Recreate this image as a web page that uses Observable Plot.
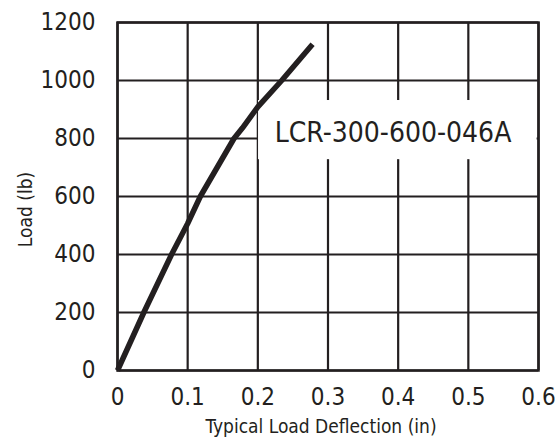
<!DOCTYPE html>
<html><head><meta charset="utf-8">
<script src="https://cdn.jsdelivr.net/npm/d3@7"></script>
<script src="https://cdn.jsdelivr.net/npm/@observablehq/plot@0.6"></script>
<style>body{margin:0;background:#fff} svg{display:block}</style>
</head><body><div id="chart"></div>
<script>
// Data
const deflection = [0, 0.0375, 0.077, 0.1, 0.118, 0.166, 0.178, 0.2, 0.234, 0.278];
const load       = [0, 200,    400,   507, 600,   800,   836,   909, 1000,  1125];
const xTicks = [0, 0.1, 0.2, 0.3, 0.4, 0.5, 0.6];
const yTicks = [0, 200, 400, 600, 800, 1000, 1200];
const seriesName = "LCR-300-600-046A";
const xTitle = "Typical Load Deflection (in)";
const yTitle = "Load (lb)";

// Annotation placement (data units)
const labelBox = {x1: 0.201, x2: 0.598, y1: 727, y2: 931};
const labelAt = {x: 0.224, y: 818};

const ink = "#231f20";
const font = "'Liberation Sans Narrow', 'Arial Narrow', 'DejaVu Sans Condensed', sans-serif";
const idx = deflection.map((_, i) => i);

const chart = Plot.plot({
  width: 560, height: 438,
  marginLeft: 117, marginRight: 22, marginTop: 22, marginBottom: 68,
  style: {fontFamily: font, color: ink, background: "#fff"},
  x: {domain: [0, 0.6]},
  y: {domain: [0, 1200]},
  marks: [
    Plot.ruleX(xTicks, {stroke: ink, strokeWidth: 2.2}),
    Plot.ruleY(yTicks, {stroke: ink, strokeWidth: 2.2}),
    Plot.rect([labelBox], {x1: "x1", x2: "x2", y1: "y1", y2: "y2", fill: "#fff"}),
    Plot.frame({stroke: ink, strokeWidth: 2.5}),
    Plot.axisX(xTicks, {tickSize: 0, tickPadding: 17, fontSize: 24, label: null, tickFormat: d => String(d)}),
    Plot.axisY(yTicks, {tickSize: 0, tickPadding: 22, fontSize: 24, label: null, tickFormat: d => String(d)}),
    Plot.line(idx, {x: i => deflection[i], y: i => load[i], stroke: ink, strokeWidth: 5.5, strokeLinejoin: "round", strokeLinecap: "butt"}),
    Plot.text([seriesName], {x: labelAt.x, y: labelAt.y, text: d => d, textAnchor: "start", fontSize: 28, fill: ink}),
    Plot.text([xTitle], {frameAnchor: "bottom", text: d => d, dx: -7, dy: 62, fontSize: 19, fill: ink}),
    Plot.text([yTitle], {frameAnchor: "left", text: d => d, rotate: -90, textAnchor: "middle", dx: -92, dy: 13, fontSize: 19, fill: ink})
  ]
});
document.getElementById("chart").append(chart);
</script>
</body></html>
